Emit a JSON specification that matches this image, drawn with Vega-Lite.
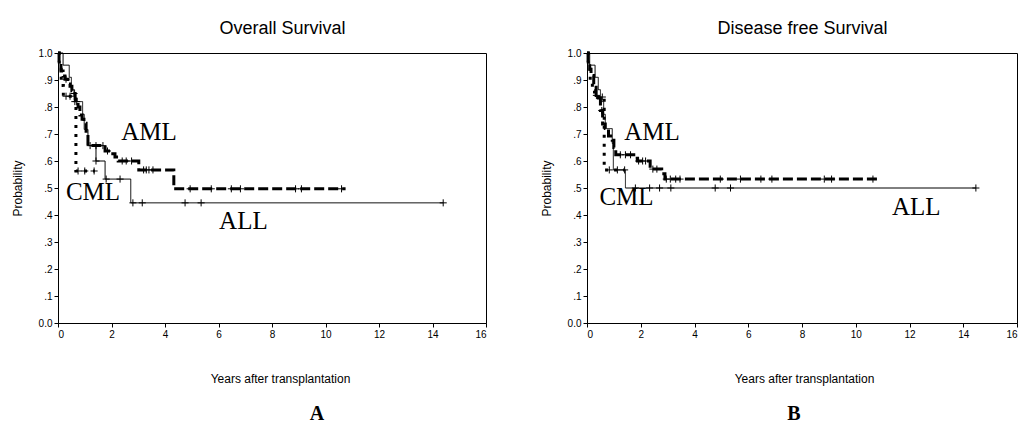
{
  "$schema": "https://vega.github.io/schema/vega-lite/v6.json",
  "background": "white",
  "padding": {"left": 10, "top": 18, "right": 0, "bottom": 0},
  "spacing": 52,
  "datasets": {
    "curves": [
      {"panel": "A", "group": "AML", "t": 0, "s": 1.0},
      {"panel": "A", "group": "AML", "t": 0.04, "s": 0.97},
      {"panel": "A", "group": "AML", "t": 0.11, "s": 0.933},
      {"panel": "A", "group": "AML", "t": 0.19, "s": 0.915},
      {"panel": "A", "group": "AML", "t": 0.26, "s": 0.903},
      {"panel": "A", "group": "AML", "t": 0.37, "s": 0.885},
      {"panel": "A", "group": "AML", "t": 0.45, "s": 0.877},
      {"panel": "A", "group": "AML", "t": 0.52, "s": 0.86},
      {"panel": "A", "group": "AML", "t": 0.56, "s": 0.85},
      {"panel": "A", "group": "AML", "t": 0.64, "s": 0.83},
      {"panel": "A", "group": "AML", "t": 0.67, "s": 0.82},
      {"panel": "A", "group": "AML", "t": 0.75, "s": 0.80},
      {"panel": "A", "group": "AML", "t": 0.82, "s": 0.77},
      {"panel": "A", "group": "AML", "t": 0.9, "s": 0.755},
      {"panel": "A", "group": "AML", "t": 0.97, "s": 0.74},
      {"panel": "A", "group": "AML", "t": 1.05, "s": 0.71},
      {"panel": "A", "group": "AML", "t": 1.12, "s": 0.657},
      {"panel": "A", "group": "AML", "t": 1.76, "s": 0.637},
      {"panel": "A", "group": "AML", "t": 1.95, "s": 0.627},
      {"panel": "A", "group": "AML", "t": 2.13, "s": 0.615},
      {"panel": "A", "group": "AML", "t": 2.25, "s": 0.60},
      {"panel": "A", "group": "AML", "t": 3.02, "s": 0.567},
      {"panel": "A", "group": "AML", "t": 4.33, "s": 0.497},
      {"panel": "A", "group": "AML", "t": 10.75, "s": 0.497},
      {"panel": "A", "group": "CML", "t": 0, "s": 1.0},
      {"panel": "A", "group": "CML", "t": 0.05, "s": 0.94},
      {"panel": "A", "group": "CML", "t": 0.12, "s": 0.88},
      {"panel": "A", "group": "CML", "t": 0.2, "s": 0.84},
      {"panel": "A", "group": "CML", "t": 0.67, "s": 0.563},
      {"panel": "A", "group": "CML", "t": 1.38, "s": 0.563},
      {"panel": "A", "group": "ALL", "t": 0, "s": 1.0},
      {"panel": "A", "group": "ALL", "t": 0.19, "s": 0.955},
      {"panel": "A", "group": "ALL", "t": 0.42, "s": 0.91},
      {"panel": "A", "group": "ALL", "t": 0.5, "s": 0.864},
      {"panel": "A", "group": "ALL", "t": 0.62, "s": 0.82},
      {"panel": "A", "group": "ALL", "t": 0.92, "s": 0.773},
      {"panel": "A", "group": "ALL", "t": 0.98, "s": 0.717},
      {"panel": "A", "group": "ALL", "t": 1.12, "s": 0.657},
      {"panel": "A", "group": "ALL", "t": 1.42, "s": 0.60},
      {"panel": "A", "group": "ALL", "t": 1.76, "s": 0.533},
      {"panel": "A", "group": "ALL", "t": 2.72, "s": 0.445},
      {"panel": "A", "group": "ALL", "t": 14.4, "s": 0.445},
      {"panel": "B", "group": "AML", "t": 0, "s": 1.0},
      {"panel": "B", "group": "AML", "t": 0.04, "s": 0.97},
      {"panel": "B", "group": "AML", "t": 0.1, "s": 0.94},
      {"panel": "B", "group": "AML", "t": 0.15, "s": 0.917},
      {"panel": "B", "group": "AML", "t": 0.25, "s": 0.883},
      {"panel": "B", "group": "AML", "t": 0.34, "s": 0.843},
      {"panel": "B", "group": "AML", "t": 0.42, "s": 0.833},
      {"panel": "B", "group": "AML", "t": 0.5, "s": 0.787},
      {"panel": "B", "group": "AML", "t": 0.58, "s": 0.737},
      {"panel": "B", "group": "AML", "t": 0.68, "s": 0.72},
      {"panel": "B", "group": "AML", "t": 0.8, "s": 0.693},
      {"panel": "B", "group": "AML", "t": 0.94, "s": 0.677},
      {"panel": "B", "group": "AML", "t": 1.0, "s": 0.65},
      {"panel": "B", "group": "AML", "t": 1.07, "s": 0.623},
      {"panel": "B", "group": "AML", "t": 1.74, "s": 0.61},
      {"panel": "B", "group": "AML", "t": 1.88, "s": 0.60},
      {"panel": "B", "group": "AML", "t": 2.35, "s": 0.57},
      {"panel": "B", "group": "AML", "t": 2.78, "s": 0.553},
      {"panel": "B", "group": "AML", "t": 2.9, "s": 0.533},
      {"panel": "B", "group": "AML", "t": 10.8, "s": 0.533},
      {"panel": "B", "group": "CML", "t": 0, "s": 1.0},
      {"panel": "B", "group": "CML", "t": 0.05, "s": 0.94},
      {"panel": "B", "group": "CML", "t": 0.12, "s": 0.9},
      {"panel": "B", "group": "CML", "t": 0.2, "s": 0.86},
      {"panel": "B", "group": "CML", "t": 0.28, "s": 0.837},
      {"panel": "B", "group": "CML", "t": 0.64, "s": 0.567},
      {"panel": "B", "group": "CML", "t": 1.4, "s": 0.567},
      {"panel": "B", "group": "ALL", "t": 0, "s": 1.0},
      {"panel": "B", "group": "ALL", "t": 0.1, "s": 0.955},
      {"panel": "B", "group": "ALL", "t": 0.3, "s": 0.91},
      {"panel": "B", "group": "ALL", "t": 0.42, "s": 0.864},
      {"panel": "B", "group": "ALL", "t": 0.5, "s": 0.82},
      {"panel": "B", "group": "ALL", "t": 0.62, "s": 0.773},
      {"panel": "B", "group": "ALL", "t": 0.68, "s": 0.72},
      {"panel": "B", "group": "ALL", "t": 0.94, "s": 0.665},
      {"panel": "B", "group": "ALL", "t": 0.98, "s": 0.567},
      {"panel": "B", "group": "ALL", "t": 1.43, "s": 0.50},
      {"panel": "B", "group": "ALL", "t": 14.47, "s": 0.50}
    ],
    "censor": [
      {"panel": "A", "group": "AML", "t": 0.3, "s": 0.903},
      {"panel": "A", "group": "AML", "t": 0.6, "s": 0.85},
      {"panel": "A", "group": "AML", "t": 0.7, "s": 0.82},
      {"panel": "A", "group": "AML", "t": 1.2, "s": 0.657},
      {"panel": "A", "group": "AML", "t": 1.42, "s": 0.657},
      {"panel": "A", "group": "AML", "t": 1.68, "s": 0.657},
      {"panel": "A", "group": "AML", "t": 1.85, "s": 0.637},
      {"panel": "A", "group": "AML", "t": 2.4, "s": 0.60},
      {"panel": "A", "group": "AML", "t": 2.55, "s": 0.60},
      {"panel": "A", "group": "AML", "t": 2.75, "s": 0.60},
      {"panel": "A", "group": "AML", "t": 3.2, "s": 0.567},
      {"panel": "A", "group": "AML", "t": 3.3, "s": 0.567},
      {"panel": "A", "group": "AML", "t": 3.4, "s": 0.567},
      {"panel": "A", "group": "AML", "t": 3.55, "s": 0.567},
      {"panel": "A", "group": "AML", "t": 4.94, "s": 0.497},
      {"panel": "A", "group": "AML", "t": 5.73, "s": 0.497},
      {"panel": "A", "group": "AML", "t": 6.48, "s": 0.497},
      {"panel": "A", "group": "AML", "t": 6.82, "s": 0.497},
      {"panel": "A", "group": "AML", "t": 8.88, "s": 0.497},
      {"panel": "A", "group": "AML", "t": 9.1, "s": 0.497},
      {"panel": "A", "group": "AML", "t": 10.6, "s": 0.497},
      {"panel": "A", "group": "CML", "t": 0.3, "s": 0.84},
      {"panel": "A", "group": "CML", "t": 0.45, "s": 0.84},
      {"panel": "A", "group": "CML", "t": 0.75, "s": 0.563},
      {"panel": "A", "group": "CML", "t": 1.0, "s": 0.563},
      {"panel": "A", "group": "CML", "t": 1.35, "s": 0.563},
      {"panel": "A", "group": "ALL", "t": 0.63, "s": 0.82},
      {"panel": "A", "group": "ALL", "t": 1.42, "s": 0.60},
      {"panel": "A", "group": "ALL", "t": 1.8, "s": 0.533},
      {"panel": "A", "group": "ALL", "t": 2.32, "s": 0.533},
      {"panel": "A", "group": "ALL", "t": 2.8, "s": 0.445},
      {"panel": "A", "group": "ALL", "t": 3.15, "s": 0.445},
      {"panel": "A", "group": "ALL", "t": 4.75, "s": 0.445},
      {"panel": "A", "group": "ALL", "t": 5.35, "s": 0.445},
      {"panel": "A", "group": "ALL", "t": 14.4, "s": 0.445},
      {"panel": "B", "group": "AML", "t": 0.35, "s": 0.843},
      {"panel": "B", "group": "AML", "t": 0.55, "s": 0.787},
      {"panel": "B", "group": "AML", "t": 1.24, "s": 0.623},
      {"panel": "B", "group": "AML", "t": 1.43, "s": 0.623},
      {"panel": "B", "group": "AML", "t": 1.62, "s": 0.623},
      {"panel": "B", "group": "AML", "t": 1.92, "s": 0.60},
      {"panel": "B", "group": "AML", "t": 2.07, "s": 0.60},
      {"panel": "B", "group": "AML", "t": 2.18, "s": 0.60},
      {"panel": "B", "group": "AML", "t": 2.45, "s": 0.57},
      {"panel": "B", "group": "AML", "t": 2.6, "s": 0.57},
      {"panel": "B", "group": "AML", "t": 2.95, "s": 0.533},
      {"panel": "B", "group": "AML", "t": 3.1, "s": 0.533},
      {"panel": "B", "group": "AML", "t": 3.3, "s": 0.533},
      {"panel": "B", "group": "AML", "t": 3.46, "s": 0.533},
      {"panel": "B", "group": "AML", "t": 4.96, "s": 0.533},
      {"panel": "B", "group": "AML", "t": 5.71, "s": 0.533},
      {"panel": "B", "group": "AML", "t": 6.47, "s": 0.533},
      {"panel": "B", "group": "AML", "t": 6.88, "s": 0.533},
      {"panel": "B", "group": "AML", "t": 8.83, "s": 0.533},
      {"panel": "B", "group": "AML", "t": 9.1, "s": 0.533},
      {"panel": "B", "group": "AML", "t": 10.64, "s": 0.533},
      {"panel": "B", "group": "CML", "t": 0.57, "s": 0.837},
      {"panel": "B", "group": "CML", "t": 0.83, "s": 0.567},
      {"panel": "B", "group": "CML", "t": 1.13, "s": 0.567},
      {"panel": "B", "group": "CML", "t": 1.4, "s": 0.567},
      {"panel": "B", "group": "ALL", "t": 1.8, "s": 0.50},
      {"panel": "B", "group": "ALL", "t": 2.33, "s": 0.50},
      {"panel": "B", "group": "ALL", "t": 2.7, "s": 0.50},
      {"panel": "B", "group": "ALL", "t": 3.12, "s": 0.50},
      {"panel": "B", "group": "ALL", "t": 4.77, "s": 0.50},
      {"panel": "B", "group": "ALL", "t": 5.34, "s": 0.50},
      {"panel": "B", "group": "ALL", "t": 14.47, "s": 0.50}
    ],
    "labels": [
      {"panel": "A", "label": "AML", "t": 3.4, "s": 0.677},
      {"panel": "A", "label": "CML", "t": 1.31, "s": 0.457},
      {"panel": "A", "label": "ALL", "t": 6.93, "s": 0.347},
      {"panel": "B", "label": "AML", "t": 2.42, "s": 0.677},
      {"panel": "B", "label": "CML", "t": 1.47, "s": 0.437},
      {"panel": "B", "label": "ALL", "t": 12.25, "s": 0.40}
    ]
  },
  "hconcat": [
    {
      "width": 428,
      "height": 270,
      "title": {"text": "A", "orient": "bottom", "font": "Liberation Serif", "fontSize": 20, "fontWeight": "bold", "dx": 45, "offset": 20, "color": "black"},
      "encoding": {
        "y": {"field": "s", "type": "quantitative", "scale": {"domain": [0, 1], "nice": false},
          "axis": {"title": "Probability", "values": [0, 0.1, 0.2, 0.3, 0.4, 0.5, 0.6, 0.7, 0.8, 0.9, 1.0],
            "labelExpr": "datum.value >= 0.999 ? '1.0' : datum.value <= 0.001 ? '0.0' : replace(format(datum.value, '.1f'), '0.', '.')",
            "tickSize": 4, "labelFontSize": 10, "titleFontSize": 12, "titlePadding": 14}}
      },
      "layer": [
        {
          "data": {"name": "curves"},
          "transform": [{"filter": "datum.panel == 'A'"}],
          "mark": {"type": "line", "interpolate": "step-after", "color": "black", "strokeCap": "butt"},
          "encoding": {
            "x": {"field": "t", "type": "quantitative", "scale": {"domain": [0, 16], "nice": false},
              "axis": {"orient": "bottom", "title": "Years after transplantation", "values": [0, 2, 4, 6, 8, 10, 12, 14, 16],
                "tickSize": 4, "labelFontSize": 10, "titleFontSize": 12, "titlePadding": 34, "titleX": 222, "titleAlign": "center"}},
            "strokeDash": {"field": "group", "type": "nominal", "scale": {"domain": ["AML", "CML", "ALL"], "range": [[10, 4], [3, 6], [1, 0]]}, "legend": null},
            "strokeWidth": {"field": "group", "type": "nominal", "scale": {"type": "ordinal", "domain": ["AML", "CML", "ALL"], "range": [3, 3, 1]}, "legend": null}
          }
        },
        {
          "data": {"name": "censor"},
          "transform": [{"filter": "datum.panel == 'A'"}],
          "mark": {"type": "point", "shape": "M-1,0H1M0,-1V1", "filled": false, "stroke": "black", "strokeWidth": 1, "size": 50, "opacity": 1},
          "encoding": {
            "x": {"field": "t", "type": "quantitative", "scale": {"domain": [0, 16], "nice": false},
              "axis": {"orient": "top", "title": "Overall Survival", "labels": false, "ticks": false, "domain": false, "titleFontSize": 18, "titlePadding": 16, "titleX": 224, "titleAlign": "center"}}
          }
        },
        {
          "data": {"name": "labels"},
          "transform": [{"filter": "datum.panel == 'A'"}],
          "mark": {"type": "text", "font": "Liberation Serif", "fontSize": 25, "baseline": "alphabetic", "align": "center", "color": "black"},
          "encoding": {
            "x": {"field": "t", "type": "quantitative", "scale": {"domain": [0, 16], "nice": false}, "axis": null},
            "text": {"field": "label"}
          }
        }
      ],
      "resolve": {"axis": {"x": "independent"}}
    },
    {
      "width": 430,
      "height": 270,
      "title": {"text": "B", "orient": "bottom", "font": "Liberation Serif", "fontSize": 20, "fontWeight": "bold", "dx": -8, "offset": 20, "color": "black"},
      "encoding": {
        "y": {"field": "s", "type": "quantitative", "scale": {"domain": [0, 1], "nice": false},
          "axis": {"title": "Probability", "values": [0, 0.1, 0.2, 0.3, 0.4, 0.5, 0.6, 0.7, 0.8, 0.9, 1.0],
            "labelExpr": "datum.value >= 0.999 ? '1.0' : datum.value <= 0.001 ? '0.0' : replace(format(datum.value, '.1f'), '0.', '.')",
            "tickSize": 4, "labelFontSize": 10, "titleFontSize": 12, "titlePadding": 14}}
      },
      "layer": [
        {
          "data": {"name": "curves"},
          "transform": [{"filter": "datum.panel == 'B'"}],
          "mark": {"type": "line", "interpolate": "step-after", "color": "black", "strokeCap": "butt"},
          "encoding": {
            "x": {"field": "t", "type": "quantitative", "scale": {"domain": [0, 16], "nice": false},
              "axis": {"orient": "bottom", "title": "Years after transplantation", "values": [0, 2, 4, 6, 8, 10, 12, 14, 16],
                "tickSize": 4, "labelFontSize": 10, "titleFontSize": 12, "titlePadding": 34, "titleX": 217, "titleAlign": "center"}},
            "strokeDash": {"field": "group", "type": "nominal", "scale": {"domain": ["AML", "CML", "ALL"], "range": [[10, 4], [3, 6], [1, 0]]}, "legend": null},
            "strokeWidth": {"field": "group", "type": "nominal", "scale": {"type": "ordinal", "domain": ["AML", "CML", "ALL"], "range": [3, 3, 1]}, "legend": null}
          }
        },
        {
          "data": {"name": "censor"},
          "transform": [{"filter": "datum.panel == 'B'"}],
          "mark": {"type": "point", "shape": "M-1,0H1M0,-1V1", "filled": false, "stroke": "black", "strokeWidth": 1, "size": 50, "opacity": 1},
          "encoding": {
            "x": {"field": "t", "type": "quantitative", "scale": {"domain": [0, 16], "nice": false},
              "axis": {"orient": "top", "title": "Disease free Survival", "labels": false, "ticks": false, "domain": false, "titleFontSize": 18, "titlePadding": 16, "titleX": 215, "titleAlign": "center"}}
          }
        },
        {
          "data": {"name": "labels"},
          "transform": [{"filter": "datum.panel == 'B'"}],
          "mark": {"type": "text", "font": "Liberation Serif", "fontSize": 25, "baseline": "alphabetic", "align": "center", "color": "black"},
          "encoding": {
            "x": {"field": "t", "type": "quantitative", "scale": {"domain": [0, 16], "nice": false}, "axis": null},
            "text": {"field": "label"}
          }
        }
      ],
      "resolve": {"axis": {"x": "independent"}}
    }
  ],
  "config": {
    "view": {"stroke": "black", "strokeWidth": 1},
    "axis": {"grid": false, "domainColor": "black", "tickColor": "black", "labelColor": "black", "titleColor": "black",
      "labelFont": "Liberation Sans", "titleFont": "Liberation Sans", "titleFontWeight": "normal"},
    "title": {"font": "Liberation Sans"}
  }
}
